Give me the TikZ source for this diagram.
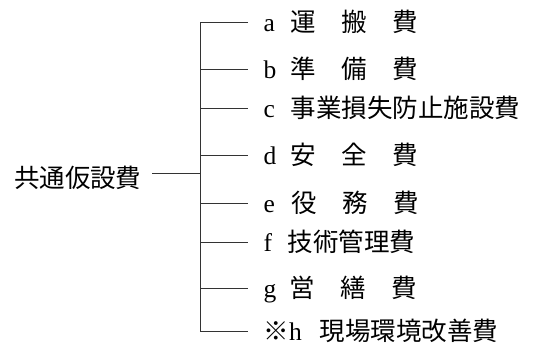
\documentclass[tikz,border=0pt]{standalone}
\usepackage{fontspec}
\setmainfont{Liberation Serif}
\newfontfamily\jpfont{Noto Sans CJK JP}
\begin{document}
\begin{tikzpicture}[x=1pt,y=-1pt,draw=black!80,line width=1pt]

	\def \trunk{200}
	\def \tip{248}
	\tikzstyle{item}=[anchor=west,text height=22pt,text depth=4pt,inner xsep=15pt,inner ysep=0pt,font=\fontsize{25.5}{28}\selectfont]
	\tikzstyle{root}=[anchor=east,text height=22pt,text depth=4pt,inner xsep=10pt,inner ysep=0pt,font=\fontsize{25.5}{28}\jpfont]
	\useasboundingbox (0,0) rectangle (533,349);

	% root
	\node[root] (total) at (152,178) {共通仮設費};
	\coordinate (fork) at (\trunk,173);

	% items
	\node[item] (ia) at (\tip,22)	{\makebox[27pt][l]{a}\jpfont 運　搬　費};
	\node[item] (ib) at (\tip,69)	{\makebox[27pt][l]{b}\jpfont 準　備　費};
	\node[item] (ic) at (\tip,108)	{\makebox[27pt][l]{c}\jpfont 事業損失防止施設費};
	\node[item] (id) at (\tip,155)	{\makebox[27pt][l]{d}\jpfont 安　全　費};
	\node[item] (ie) at (\tip,203)	{\makebox[28pt][l]{e}\jpfont 役　務　費};
	\node[item] (if) at (\tip,242)	{\makebox[24pt][l]{f}\jpfont 技術管理費};
	\node[item] (ig) at (\tip,288)	{\makebox[26pt][l]{g}\jpfont 営　繕　費};
	\node[item] (ih) at (\tip,331)	{\makebox[56pt][l]{{\jpfont ※}h}\jpfont 現場環境改善費};

	% trunk
	\coordinate (ta) at (\trunk,22);
	\coordinate (tb) at (\trunk,69);
	\coordinate (tc) at (\trunk,108);
	\coordinate (td) at (\trunk,155);
	\coordinate (te) at (\trunk,203);
	\coordinate (tf) at (\trunk,242);
	\coordinate (tg) at (\trunk,288);
	\coordinate (th) at (\trunk,331);

	\draw (total.east |- fork) -- (fork);
	\draw (ia) -- (ta) -- (th) -- (ih);
	\draw (tb) -- (ib);
	\draw (tc) -- (ic);
	\draw (td) -- (id);
	\draw (te) -- (ie);
	\draw (tf) -- (if);
	\draw (tg) -- (ig);
\end{tikzpicture}
\end{document}
